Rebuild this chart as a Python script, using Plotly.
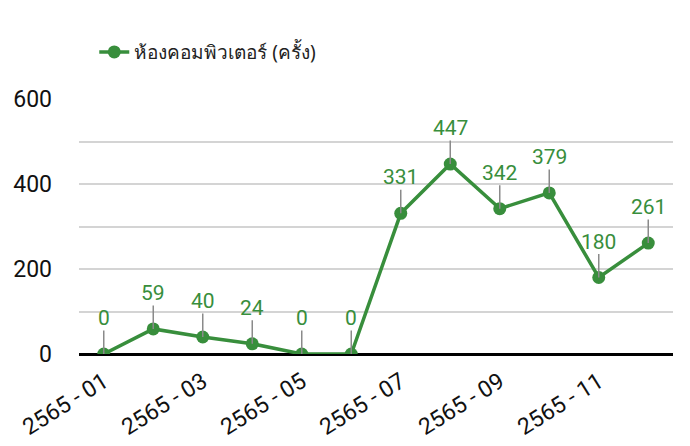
import plotly.graph_objects as go

months = ["2565 - 01", "2565 - 02", "2565 - 03", "2565 - 04", "2565 - 05", "2565 - 06",
          "2565 - 07", "2565 - 08", "2565 - 09", "2565 - 10", "2565 - 11", "2565 - 12"]
values = [0, 59, 40, 24, 0, 0, 331, 447, 342, 379, 180, 261]
series_name = "ห้องคอมพิวเตอร์ (ครั้ง)"
tick_months = ["2565 - 01", "2565 - 03", "2565 - 05", "2565 - 07", "2565 - 09", "2565 - 11"]

GREEN = "#388E3C"

fig = go.Figure()
fig.add_trace(go.Scatter(
    x=months, y=values, mode="lines+markers", name=series_name,
    line=dict(color=GREEN, width=3.5),
    marker=dict(color=GREEN, size=13),
))

for m, v in zip(months, values):
    # leader line
    fig.add_annotation(
        x=m, y=v, text="", showarrow=True, ax=0, ay=-25,
        arrowhead=0, arrowwidth=1.5, arrowcolor="#8a8a8a", standoff=0,
    )
    # value label
    fig.add_annotation(
        x=m, y=v, text=str(v), showarrow=False, yshift=23,
        font=dict(family="Roboto", size=21, color=GREEN),
        yanchor="bottom", borderpad=0,
    )

fig.update_layout(
    width=690, height=446,
    margin=dict(l=71, r=25, t=91, b=100, autoexpand=False),
    paper_bgcolor="white", plot_bgcolor="white",
    showlegend=True,
    legend=dict(x=0.0257, xanchor="left", y=1.184, yanchor="middle", orientation="h",
                font=dict(family="Noto Sans, Roboto", size=19, color="#222222"),
                bgcolor="rgba(0,0,0,0)"),
    font=dict(family="Roboto", size=22, color="#111111"),
)
fig.update_xaxes(
    type="category", categoryorder="array", categoryarray=months,
    range=[-0.5, 11.5], tickmode="array", tickvals=tick_months, ticktext=tick_months,
    tickangle=-32, showgrid=False, showline=False, ticks="",
    ticklabelstandoff=9,
    tickfont=dict(family="Roboto", size=23, color="#111111"),
)
fig.update_yaxes(
    range=[0, 600], tickmode="array", tickvals=[0, 200, 400, 600],
    showgrid=True, gridcolor="#d4d4d4", gridwidth=2,
    minor=dict(tickmode="array", tickvals=[100, 300, 500], showgrid=True, gridcolor="#d4d4d4", gridwidth=2),
    zeroline=True, zerolinecolor="#000000", zerolinewidth=2.5,
    ticklabelstandoff=26,
    tickfont=dict(family="Roboto", size=23, color="#111111"),
)

fig.write_html("out.html")
